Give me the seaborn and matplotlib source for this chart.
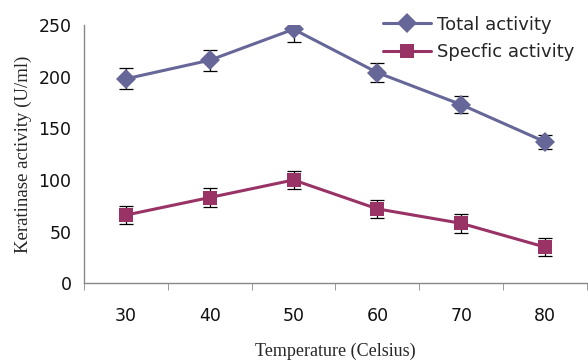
import numpy as np
import pandas as pd
import matplotlib
matplotlib.use("Agg")
import matplotlib.pyplot as plt
import seaborn as sns

# dane
temperatury = ['30', '40', '50', '60', '70', '80']
total = [198, 216, 246, 204, 173, 137]
total_err = [10, 10, 12, 9, 8, 7]
specific = [66, 83, 100, 72, 58, 35]
specific_err = [9, 9, 9, 9, 9, 9]

kolor_total = '#666699'
kolor_spec = '#993366'

sns.set_style('white')
plt.rcParams['font.family'] = ['DejaVu Sans']

df = pd.DataFrame({'temp': temperatury * 2,
                   'wartosc': total + specific,
                   'seria': ['Total activity'] * 6 + ['Specfic activity'] * 6})

fig = plt.figure(figsize=(5.88, 3.64), dpi=100)
ax = fig.add_axes([0.143, 0.222, 0.855, 0.709])

sns.lineplot(data=df, x='temp', y='wartosc', hue='seria', style='seria',
             palette=[kolor_total, kolor_spec], markers=['D', 's'], dashes=False,
             markersize=10.5, linewidth=2.2, markeredgewidth=0, ax=ax)

# slupki bledow
x = np.arange(len(temperatury))
ax.errorbar(x, total, yerr=total_err, fmt='none', ecolor='black', elinewidth=0.9,
            capsize=5, capthick=0.9, zorder=1)
ax.errorbar(x, specific, yerr=specific_err, fmt='none', ecolor='black', elinewidth=0.9,
            capsize=5, capthick=0.9, zorder=1)

ax.set_xlim(-0.5, 5.5)
ax.set_ylim(0, 250)
ax.set_yticks([0, 50, 100, 150, 200, 250])
ax.set_xticks(x)
ax.set_xticks(np.arange(-0.5, 6, 1), minor=True)
ax.tick_params(axis='x', which='major', length=0, pad=17, labelsize=12.5, labelcolor='#111111')
ax.tick_params(axis='x', which='minor', length=5, color='#888888', direction='out', bottom=True)
ax.tick_params(axis='y', length=5, color='#888888', direction='out', labelsize=12.5,
               pad=4, labelcolor='#111111')

for s in ['top', 'right']:
    ax.spines[s].set_visible(False)
for s in ['left', 'bottom']:
    ax.spines[s].set_color('#888888')
    ax.spines[s].set_linewidth(1)

ax.set_xlabel('Temperature (Celsius)', family='Liberation Serif', fontsize=13, labelpad=13)
ax.set_ylabel('Keratinase activity (U/ml)', family='Liberation Serif', fontsize=13.5, labelpad=5)

leg = ax.legend(loc='upper right', bbox_to_anchor=(1.0, 1.085), frameon=False,
                fontsize=13, handlelength=2.7, labelspacing=0.5, borderpad=0.2, handletextpad=0.3)

fig.savefig('out.png', dpi=100)
